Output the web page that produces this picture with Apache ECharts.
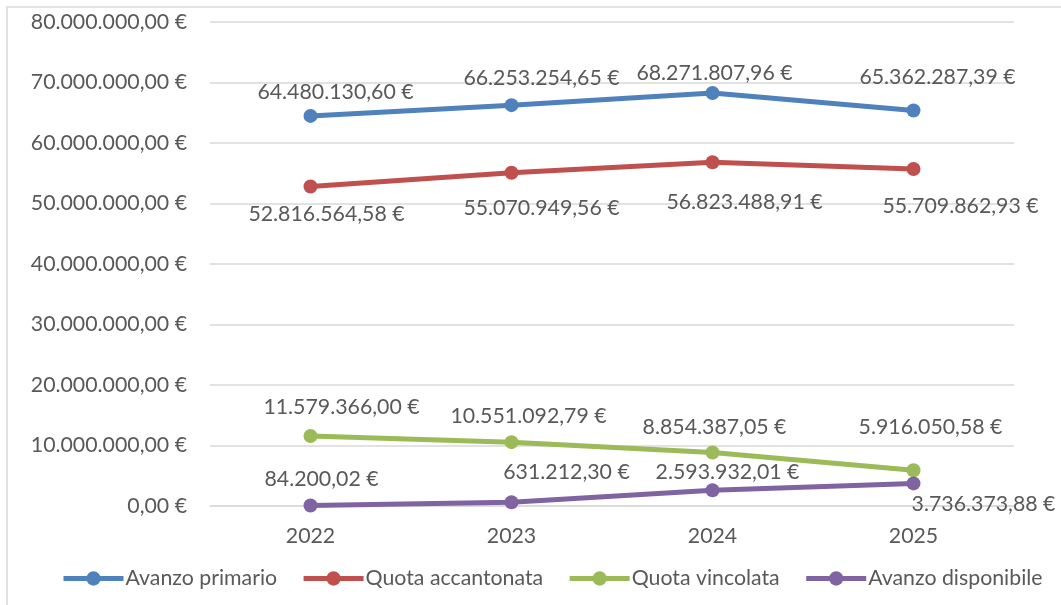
<!DOCTYPE html>
<html>
<head>
<meta charset="utf-8">
<script src="https://cdn.jsdelivr.net/npm/echarts@6/dist/echarts.min.js"></script>
<style>
  html, body { margin: 0; padding: 0; background: #fff; }
  #chart { width: 1061px; height: 605px; }
</style>
</head>
<body>
<div id="chart"></div>
<script>
const years = ['2022', '2023', '2024', '2025'];
const avanzoPrimario = [64480130.60, 66253254.65, 68271807.96, 65362287.39];
const quotaAccantonata = [52816564.58, 55070949.56, 56823488.91, 55709862.93];
const quotaVincolata = [11579366.00, 10551092.79, 8854387.05, 5916050.58];
const avanzoDisponibile = [84200.02, 631212.30, 2593932.01, 3736373.88];

// label placement as it sits in the original (px from the marker centre)
const offPrimario = [[25, -24], [30, -27], [2, -20], [24, -33]];
const offAccantonata = [[16, 28], [30, 35], [32, 40], [47, 37]];
const offVincolata = [[31, -29], [17, -26], [2, -25], [17, -43]];
const offDisponibile = [[11, -26], [55, -30], [15, -18], [70, 21]];

const FONT = 'Lato';
const FS = 21.3;
const TXT = '#595959';

function fmtEuro(v) {
  const parts = Number(v).toFixed(2).split('.');
  const int = parts[0].replace(/\B(?=(\d{3})+(?!\d))/g, '.');
  return int + ',' + parts[1] + ' €';
}

function makeSeries(name, values, offsets, color) {
  return {
    name: name,
    type: 'line',
    data: values.map((v, i) => ({
      value: v,
      label: { offset: offsets[i] }
    })),
    symbol: 'circle',
    symbolSize: 14,
    lineStyle: { width: 5, color: color },
    itemStyle: { color: color },
    label: {
      show: true,
      position: 'inside',
      color: TXT,
      fontFamily: FONT,
      fontSize: FS,
      formatter: p => fmtEuro(p.value)
    }
  };
}

const chart = echarts.init(document.getElementById('chart'));
chart.setOption({
  animation: false,
  backgroundColor: '#fff',
  graphic: [{
    type: 'rect',
    shape: { x: 7, y: 7, width: 1200, height: 800 },
    style: { fill: 'none', stroke: '#d9d9d9', lineWidth: 1.5 },
    silent: true
  }],
  grid: { left: 210, right: 47, top: 22, bottom: 99 },
  legend: {
    top: 563,
    left: 56,
    itemWidth: 60,
    itemHeight: 18,
    itemGap: 24,
    lineStyle: { width: 5 },
    textStyle: { color: TXT, fontFamily: FONT, fontSize: FS, padding: [0, 0, 0, -3] },
    data: ['Avanzo primario', 'Quota accantonata', 'Quota vincolata', 'Avanzo disponibile']
  },
  xAxis: {
    type: 'category',
    data: years,
    boundaryGap: true,
    axisLine: { lineStyle: { color: '#d9d9d9', width: 1.5 } },
    axisTick: { show: false },
    axisLabel: { color: TXT, fontFamily: FONT, fontSize: FS, margin: 20 }
  },
  yAxis: {
    type: 'value',
    min: 0,
    max: 80000000,
    interval: 10000000,
    axisLine: { show: false },
    axisTick: { show: false },
    splitLine: { lineStyle: { color: '#d9d9d9', width: 1.5 } },
    axisLabel: { color: TXT, fontFamily: FONT, fontSize: FS, margin: 23, formatter: v => fmtEuro(v) }
  },
  series: [
    makeSeries('Avanzo primario', avanzoPrimario, offPrimario, '#4f81bd'),
    makeSeries('Quota accantonata', quotaAccantonata, offAccantonata, '#c0504d'),
    makeSeries('Quota vincolata', quotaVincolata, offVincolata, '#9bbb59'),
    makeSeries('Avanzo disponibile', avanzoDisponibile, offDisponibile, '#8064a2')
  ]
});
</script>
</body>
</html>
